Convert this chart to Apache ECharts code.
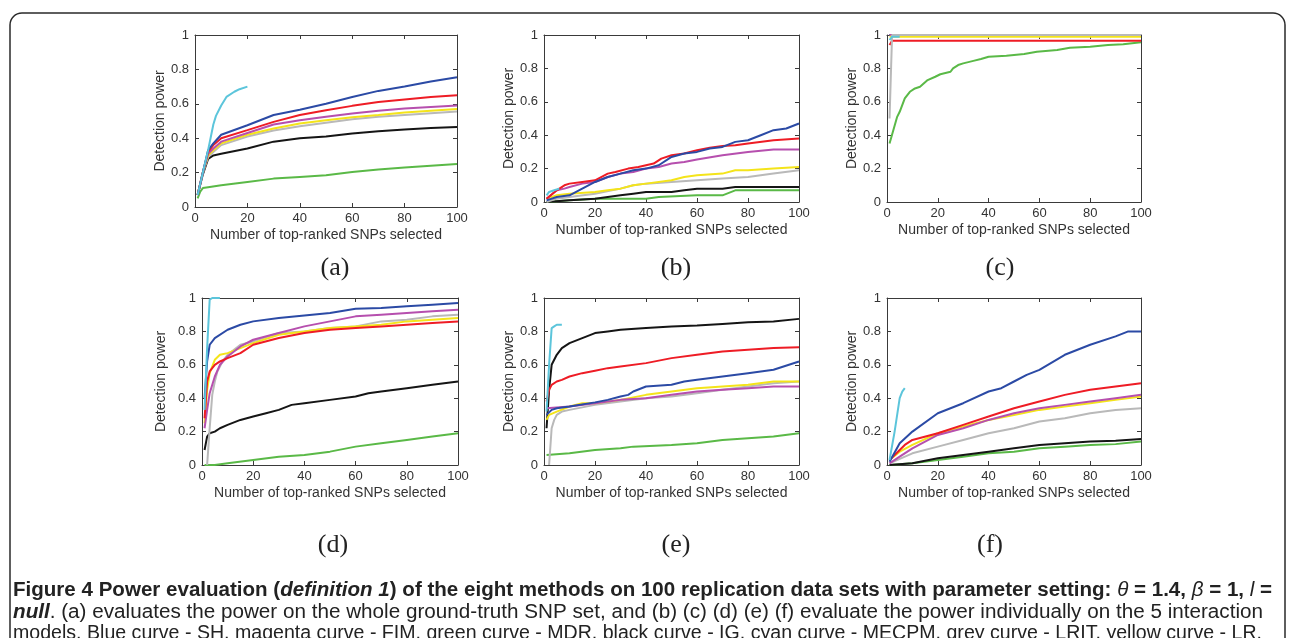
<!DOCTYPE html>
<html>
<head>
<meta charset="utf-8">
<script src="https://cdn.jsdelivr.net/npm/echarts@6/dist/echarts.min.js"></script>
<style>
html,body{margin:0;padding:0;background:#fff;}
#main{width:1292px;height:638px;}
</style>
</head>
<body>
<div id="main"></div>
<script>
// tick values shared by all six panels
var xTicks = [0, 20, 40, 60, 80, 100];
var yTicks = [0, 0.2, 0.4, 0.6, 0.8, 1];
var xTitle = 'Number of top-ranked SNPs selected';
var yTitle = 'Detection power';
// drawing order, last on top
var curveNames = ['green', 'black', 'grey', 'yellow', 'magenta', 'red', 'blue', 'cyan'];
var curveNamesC = ['green', 'black', 'blue', 'magenta', 'red', 'yellow', 'grey', 'cyan'];

// (a) whole ground-truth SNP set
var panelA = {
  green: [[1,0.05],[2,0.09],[3,0.11],[5,0.115],[10,0.126],[20,0.146],[30,0.165],[40,0.175],[50,0.185],[60,0.204],[70,0.218],[80,0.23],[90,0.24],[100,0.25]],
  black: [[1,0.07],[3,0.19],[5,0.28],[7,0.30],[10,0.31],[20,0.34],[30,0.38],[40,0.40],[50,0.41],[60,0.427],[70,0.44],[80,0.45],[90,0.46],[100,0.465]],
  grey: [[1,0.07],[3,0.2],[5,0.29],[7,0.32],[10,0.36],[20,0.41],[30,0.445],[40,0.47],[50,0.49],[60,0.51],[70,0.525],[80,0.535],[90,0.545],[100,0.555]],
  yellow: [[1,0.07],[3,0.2],[5,0.3],[7,0.33],[10,0.37],[20,0.42],[30,0.456],[40,0.485],[50,0.505],[60,0.522],[70,0.535],[80,0.55],[90,0.56],[100,0.57]],
  magenta: [[1,0.07],[3,0.2],[5,0.31],[7,0.34],[10,0.38],[20,0.43],[30,0.48],[40,0.505],[50,0.525],[60,0.544],[70,0.56],[80,0.572],[90,0.582],[100,0.59]],
  red: [[1,0.07],[3,0.2],[5,0.32],[7,0.36],[10,0.40],[20,0.447],[30,0.495],[40,0.535],[50,0.563],[60,0.588],[70,0.61],[80,0.625],[90,0.64],[100,0.65]],
  blue: [[1,0.07],[3,0.2],[5,0.33],[7,0.37],[10,0.42],[20,0.475],[30,0.535],[40,0.565],[50,0.60],[60,0.64],[70,0.675],[80,0.70],[90,0.73],[100,0.755]],
  cyan: [[1,0.07],[3,0.2],[5,0.33],[7,0.48],[8,0.53],[10,0.59],[12,0.64],[15,0.67],[17,0.685],[20,0.70]]
};
// (b)
var panelB = {
  green: [[1,0],[10,0.01],[20,0.02],[40,0.02],[45,0.03],[60,0.04],[70,0.04],[75,0.07],[100,0.07]],
  black: [[1,0],[10,0.01],[20,0.02],[25,0.03],[30,0.04],[35,0.05],[40,0.06],[50,0.06],[55,0.07],[60,0.08],[70,0.08],[75,0.09],[100,0.09]],
  grey: [[1,0],[5,0.02],[10,0.03],[20,0.05],[30,0.08],[35,0.10],[40,0.11],[50,0.12],[60,0.13],[70,0.14],[80,0.15],[90,0.17],[100,0.19]],
  yellow: [[1,0.02],[5,0.04],[10,0.05],[20,0.06],[25,0.07],[30,0.08],[35,0.10],[40,0.11],[50,0.13],[55,0.15],[60,0.16],[70,0.17],[75,0.19],[80,0.19],[90,0.20],[100,0.21]],
  magenta: [[1,0.02],[5,0.07],[8,0.08],[10,0.09],[15,0.11],[20,0.12],[25,0.15],[30,0.17],[35,0.18],[40,0.20],[45,0.21],[50,0.23],[55,0.24],[60,0.255],[70,0.28],[80,0.30],[90,0.315],[100,0.315]],
  red: [[1,0.02],[5,0.07],[8,0.1],[10,0.11],[15,0.12],[20,0.13],[25,0.17],[28,0.18],[33,0.2],[37,0.21],[40,0.22],[43,0.23],[46,0.26],[50,0.28],[55,0.29],[60,0.31],[65,0.325],[70,0.335],[75,0.34],[80,0.35],[90,0.37],[100,0.38]],
  blue: [[1,0.01],[5,0.03],[10,0.04],[15,0.08],[20,0.12],[25,0.15],[30,0.17],[35,0.19],[40,0.20],[45,0.22],[50,0.27],[55,0.29],[60,0.30],[65,0.32],[70,0.33],[75,0.36],[80,0.37],[85,0.40],[90,0.43],[95,0.44],[100,0.47]],
  cyan: [[1,0.04],[2,0.06],[4,0.07],[6,0.08]]
};
// (c)
var panelC = {
  green: [[1,0.35],[4,0.51],[5,0.54],[7,0.62],[9,0.66],[11,0.68],[13,0.69],[16,0.73],[19,0.75],[21,0.765],[25,0.78],[26,0.80],[28,0.82],[30,0.83],[34,0.845],[37,0.856],[40,0.87],[47,0.876],[54,0.886],[59,0.90],[67,0.91],[72,0.924],[80,0.93],[87,0.94],[93,0.944],[100,0.956]],
  black: [[1,1],[100,1]],
  grey: [[1,0.5],[2,1],[100,1]],
  yellow: [[1,0.99],[100,0.99]],
  magenta: [[1,1],[100,1]],
  red: [[1,0.94],[2,0.965],[100,0.965]],
  blue: [[1,1],[100,1]],
  cyan: [[1,0.97],[2,0.99],[5,0.99]]
};
// (d)
var panelD = {
  green: [[1,0],[5,0],[10,0.01],[20,0.03],[30,0.05],[40,0.06],[50,0.08],[60,0.11],[70,0.13],[80,0.15],[90,0.17],[100,0.19]],
  black: [[1,0.09],[2,0.17],[3,0.19],[5,0.2],[7,0.22],[10,0.24],[15,0.27],[20,0.29],[25,0.31],[30,0.33],[35,0.36],[40,0.37],[50,0.39],[60,0.41],[65,0.43],[70,0.44],[80,0.46],[90,0.48],[100,0.5]],
  grey: [[2,0],[3,0.22],[4,0.42],[5,0.5],[6,0.56],[8,0.62],[10,0.66],[15,0.72],[20,0.74],[30,0.79],[40,0.80],[50,0.82],[60,0.83],[70,0.86],[80,0.87],[90,0.89],[100,0.90]],
  yellow: [[1,0.25],[2,0.45],[3,0.55],[5,0.63],[7,0.66],[10,0.67],[15,0.70],[20,0.73],[30,0.78],[40,0.80],[50,0.82],[60,0.83],[70,0.84],[80,0.86],[90,0.87],[100,0.88]],
  magenta: [[1,0.22],[2,0.33],[3,0.43],[5,0.53],[7,0.6],[10,0.65],[15,0.71],[20,0.75],[30,0.79],[40,0.83],[50,0.86],[60,0.89],[70,0.9],[80,0.91],[90,0.92],[100,0.93]],
  red: [[1,0.28],[2,0.5],[3,0.56],[5,0.6],[7,0.62],[10,0.64],[15,0.67],[20,0.72],[30,0.76],[40,0.79],[50,0.81],[60,0.82],[70,0.83],[80,0.84],[90,0.85],[100,0.86]],
  blue: [[1,0.4],[2,0.62],[3,0.72],[5,0.76],[10,0.81],[15,0.84],[20,0.86],[30,0.88],[40,0.895],[50,0.91],[60,0.935],[70,0.94],[80,0.95],[90,0.96],[100,0.97]],
  cyan: [[1,0.33],[2,0.7],[3,0.99],[4,1],[7,1]]
};
// (e)
var panelE = {
  green: [[1,0.06],[10,0.07],[20,0.09],[30,0.1],[35,0.11],[50,0.12],[60,0.13],[70,0.15],[80,0.16],[90,0.17],[100,0.19]],
  black: [[1,0.22],[2,0.45],[3,0.6],[5,0.66],[7,0.7],[10,0.73],[15,0.76],[20,0.79],[25,0.80],[30,0.81],[40,0.82],[50,0.83],[60,0.835],[70,0.845],[80,0.855],[90,0.86],[100,0.875]],
  grey: [[2,0],[3,0.22],[4,0.27],[5,0.3],[7,0.32],[10,0.33],[20,0.36],[30,0.38],[40,0.40],[50,0.41],[60,0.43],[70,0.45],[80,0.47],[90,0.49],[100,0.50]],
  yellow: [[1,0.27],[2,0.3],[5,0.32],[10,0.35],[15,0.37],[20,0.37],[30,0.39],[40,0.42],[50,0.44],[60,0.46],[70,0.47],[80,0.48],[90,0.50],[100,0.50]],
  magenta: [[1,0.34],[10,0.35],[20,0.37],[30,0.39],[40,0.40],[50,0.42],[60,0.44],[70,0.45],[80,0.46],[90,0.47],[100,0.47]],
  red: [[1,0.38],[2,0.45],[3,0.48],[5,0.5],[7,0.51],[10,0.53],[15,0.55],[20,0.565],[25,0.58],[30,0.59],[40,0.61],[50,0.64],[60,0.66],[70,0.68],[80,0.69],[90,0.70],[100,0.705]],
  blue: [[1,0.3],[3,0.33],[5,0.34],[10,0.35],[20,0.375],[25,0.39],[30,0.41],[33,0.42],[35,0.44],[40,0.47],[50,0.48],[55,0.5],[60,0.51],[70,0.53],[80,0.55],[90,0.57],[100,0.62]],
  cyan: [[1,0.32],[2,0.6],[3,0.82],[4,0.83],[5,0.84],[7,0.84]]
};
// (f)
var panelF = {
  green: [[1,0],[10,0.01],[20,0.03],[30,0.05],[40,0.07],[50,0.08],[60,0.1],[70,0.11],[80,0.12],[90,0.125],[100,0.14]],
  black: [[1,0],[10,0.01],[20,0.04],[30,0.06],[40,0.08],[50,0.1],[60,0.12],[70,0.13],[80,0.14],[90,0.145],[100,0.155]],
  grey: [[1,0.01],[10,0.07],[20,0.11],[30,0.15],[40,0.19],[50,0.22],[60,0.26],[70,0.28],[80,0.31],[90,0.33],[100,0.34]],
  yellow: [[1,0.03],[5,0.08],[10,0.12],[20,0.19],[30,0.23],[40,0.27],[50,0.3],[60,0.33],[70,0.35],[80,0.37],[90,0.39],[100,0.41]],
  magenta: [[1,0.01],[5,0.05],[10,0.1],[20,0.18],[30,0.22],[40,0.27],[50,0.31],[60,0.34],[70,0.36],[80,0.38],[90,0.40],[100,0.42]],
  red: [[1,0.03],[5,0.09],[7,0.12],[10,0.15],[20,0.19],[30,0.24],[40,0.29],[50,0.34],[60,0.38],[70,0.42],[80,0.45],[90,0.47],[100,0.49]],
  blue: [[1,0.02],[5,0.13],[10,0.2],[20,0.31],[30,0.37],[40,0.44],[45,0.46],[50,0.5],[55,0.54],[60,0.57],[70,0.66],[80,0.72],[90,0.77],[95,0.8],[100,0.8]],
  cyan: [[1,0.03],[3,0.2],[5,0.4],[6,0.44],[7,0.46]]
};

// caption lines, s = style key
var captionLines = [
  [{t:'Figure 4 Power evaluation (', s:'b'}, {t:'definition 1', s:'bi'}, {t:') of the eight methods on 100 replication data sets with parameter setting: ', s:'b'}, {t:'θ', s:'i'}, {t:' = 1.4, ', s:'b'}, {t:'β', s:'i'}, {t:' = 1, ', s:'b'}, {t:'l', s:'i'}, {t:' =', s:'b'}],
  [{t:'null', s:'bi'}, {t:'. (a) evaluates the power on the whole ground-truth SNP set, and (b) (c) (d) (e) (f) evaluate the power individually on the 5 interaction', s:'n'}],
  [{t:'models. Blue curve - SH, magenta curve - FIM, green curve - MDR, black curve - IG, cyan curve - MECPM, grey curve - LRIT, yellow curve - LR.', s:'n'}]
];

var colors = {
  blue: '#2b4aa5', red: '#ee1c25', magenta: '#b64fae', green: '#5ab947',
  black: '#151515', cyan: '#5cc5db', grey: '#b9b9b9', yellow: '#f4e41a'
};

var panels = [
  {tag:'(a)', data:panelA, order:curveNames, left:195, top:35, width:262, height:172, gap:27, tx:335, ty:268},
  {tag:'(b)', data:panelB, order:curveNames, left:544, top:35, width:255, height:167, gap:27, tx:676, ty:268},
  {tag:'(c)', data:panelC, order:curveNamesC, left:887, top:35, width:254, height:167, gap:27, tx:1000, ty:268},
  {tag:'(d)', data:panelD, order:curveNames, left:202, top:298, width:256, height:167, gap:34, tx:333, ty:545},
  {tag:'(e)', data:panelE, order:curveNames, left:544, top:298, width:255, height:167, gap:27, tx:676, ty:545},
  {tag:'(f)', data:panelF, order:curveNames, left:887, top:298, width:254, height:167, gap:27, tx:990, ty:545}
];

var axisFont = '"Liberation Sans", Arial, sans-serif';
var capFont = '"Liberation Sans", Arial, sans-serif';
var axisColor = '#3a3a3a';

var grids = [], xAxes = [], yAxes = [], series = [], graphics = [];

panels.forEach(function (p, i) {
  grids.push({left:p.left, top:p.top, width:p.width, height:p.height, show:false});
  var common = {
    gridIndex: i, type: 'value',
    axisLine: {show:true, onZero:false, lineStyle:{color:axisColor, width:1}},
    axisTick: {show:true, inside:true, length:4, lineStyle:{color:axisColor}},
    splitLine: {show:false}
  };
  xAxes.push(Object.assign({}, common, {
    position:'bottom', min:xTicks[0], max:xTicks[xTicks.length-1], interval:xTicks[1]-xTicks[0],
    axisLabel:{fontSize:13, color:'#333', margin:5, fontFamily:axisFont},
    name:xTitle, nameLocation:'middle', nameGap:21,
    nameTextStyle:{fontSize:14, color:'#333', fontFamily:axisFont}
  }));
  xAxes.push(Object.assign({}, common, {
    position:'top', min:xTicks[0], max:xTicks[xTicks.length-1], interval:xTicks[1]-xTicks[0],
    axisLabel:{show:false}
  }));
  yAxes.push(Object.assign({}, common, {
    position:'left', min:yTicks[0], max:yTicks[yTicks.length-1], interval:yTicks[1]-yTicks[0],
    axisLabel:{fontSize:13, color:'#333', margin:6, fontFamily:axisFont},
    name:yTitle, nameLocation:'middle', nameGap:p.gap, nameRotate:90,
    nameTextStyle:{fontSize:14, color:'#333', fontFamily:axisFont}
  }));
  yAxes.push(Object.assign({}, common, {
    position:'right', min:yTicks[0], max:yTicks[yTicks.length-1], interval:yTicks[1]-yTicks[0],
    axisLabel:{show:false}
  }));
  p.order.forEach(function (c) {
    series.push({
      type:'line', xAxisIndex:2*i, yAxisIndex:2*i, data:p.data[c],
      symbol:'none', smooth:false, clip:true,
      lineStyle:{color:colors[c], width:2}, itemStyle:{color:colors[c]},
      silent:true
    });
  });
  graphics.push({
    type:'text', x:p.tx, y:p.ty,
    style:{text:p.tag, font:'26px "Liberation Serif", "Times New Roman", serif', fill:'#222', align:'center', verticalAlign:'middle'}
  });
});

// outer rounded frame
graphics.unshift({
  type:'rect', shape:{x:10, y:13, width:1275, height:700, r:12},
  style:{fill:'none', stroke:'#2a2a2a', lineWidth:1.5}, z:-1
});

// caption: regular sans squeezed horizontally to look like the condensed journal face
var ctx = document.createElement('canvas').getContext('2d');
var styleMap = {b:'bold ', bi:'italic bold ', i:'italic ', n:''};
var capSize = 20;
function lineWidth(segs, size) {
  var w = 0;
  segs.forEach(function (s) {
    ctx.font = styleMap[s.s] + size + 'px ' + capFont;
    w += ctx.measureText(s.t).width;
  });
  return w;
}
var capTargets = [1259, 1250, 1249];
var capY = [590, 612, 633];
var rich = {
  b:{fontWeight:'bold', fontSize:capSize, fontFamily:capFont, fill:'#222'},
  bi:{fontWeight:'bold', fontStyle:'italic', fontSize:capSize, fontFamily:capFont, fill:'#222'},
  i:{fontStyle:'italic', fontSize:capSize, fontFamily:capFont, fill:'#222'},
  n:{fontSize:capSize, fontFamily:capFont, fill:'#222'}
};
captionLines.forEach(function (segs, k) {
  graphics.push({
    type:'text', x:13, y:capY[k],
    scaleX: capTargets[k] / lineWidth(segs, capSize),
    style:{
      text: segs.map(function (s) { return '{' + s.s + '|' + s.t + '}'; }).join(''),
      rich: rich, verticalAlign:'middle', align:'left', fill:'#222'
    }
  });
});

var myChart = echarts.init(document.getElementById('main'), null, {renderer:'canvas'});
var option = {
  animation: false,
  backgroundColor: '#fff',
  grid: grids,
  xAxis: xAxes,
  yAxis: yAxes,
  series: series,
  graphic: graphics
};
myChart.setOption(option);
</script>
</body>
</html>
